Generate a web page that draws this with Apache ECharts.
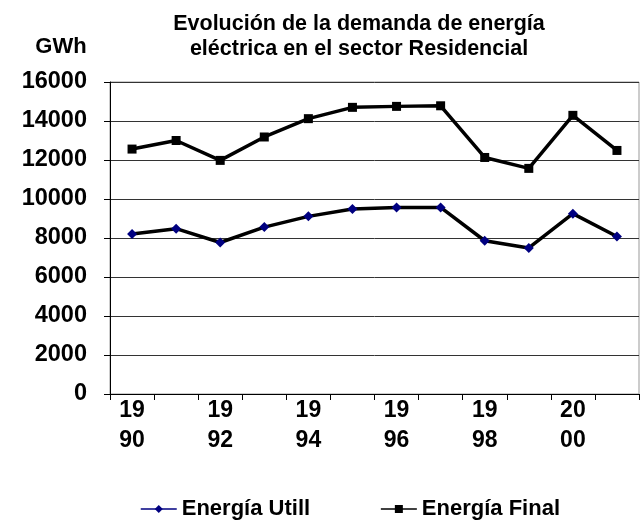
<!DOCTYPE html>
<html><head><meta charset="utf-8">
<script src="https://cdn.jsdelivr.net/npm/echarts@6/dist/echarts.min.js"></script>
<style>html,body{margin:0;padding:0;background:#fff}#c{width:641px;height:525px}</style>
</head><body><div id="c"></div>
<script>
const years = ['1990','1991','1992','1993','1994','1995','1996','1997','1998','1999','2000','2001'];
const yearLabels = ['19\n90','19\n91','19\n92','19\n93','19\n94','19\n95','19\n96','19\n97','19\n98','19\n99','20\n00','20\n01'];
const energiaUtil = [8200, 8480, 7770, 8560, 9110, 9490, 9570, 9570, 7860, 7490, 9250, 8080];
const energiaFinal = [12560, 13000, 11980, 13180, 14120, 14700, 14750, 14780, 12130, 11570, 14290, 12490];
const seriesNames = ['Energía Utill', 'Energía Final'];
const titleText = 'Evolución de la demanda de energía\neléctrica en el sector Residencial';
const unitText = 'GWh';

const FONT = 'Liberation Sans, Arial, sans-serif';
const chart = echarts.init(document.getElementById('c'), null, {renderer: 'canvas'});
chart.setOption({
  animation: false,
  backgroundColor: '#fff',
  graphic: [
    {type: 'text', x: 359, y: 12, style: {text: titleText, font: 'bold 21.5px ' + FONT, fill: '#000', align: 'center', verticalAlign: 'top', lineHeight: 25}},
    {type: 'text', x: 61, y: 47, style: {text: unitText, font: 'bold 22px ' + FONT, fill: '#000', align: 'center', verticalAlign: 'middle'}}
  ],
  grid: {left: 110, right: 2, top: 82, bottom: 131, show: true, borderColor: '#999', borderWidth: 1},
  legend: {
    top: 493, left: 135, itemGap: 70, itemWidth: 36, itemHeight: 10,
    textStyle: {fontFamily: FONT, fontWeight: 'bold', fontSize: 22, color: '#000'},
    data: [
      {name: seriesNames[0], itemStyle: {color: '#000080'}, lineStyle: {color: '#000080', width: 1.5}},
      {name: seriesNames[1], itemStyle: {color: '#000'}, lineStyle: {color: '#000', width: 1.5}}
    ]
  },
  xAxis: {
    type: 'category', data: years, boundaryGap: true,
    axisLine: {lineStyle: {color: '#000', width: 1}},
    axisTick: {show: true, length: 6, interval: 0, lineStyle: {color: '#000'}},
    axisLabel: {interval: 1, formatter: (v, i) => yearLabels[i], fontFamily: FONT, fontWeight: 'bold', fontSize: 23, color: '#000', lineHeight: 30, margin: 2}
  },
  yAxis: {
    type: 'value', min: 0, max: 16000, interval: 2000,
    axisLine: {show: true, lineStyle: {color: '#000', width: 1}},
    axisTick: {show: true, length: 6, lineStyle: {color: '#000'}},
    splitLine: {show: true, lineStyle: {color: '#333', width: 1}},
    axisLabel: {formatter: v => String(v), fontFamily: FONT, fontWeight: 'bold', fontSize: 23.5, color: '#000', margin: 23}
  },
  series: [
    {name: seriesNames[0], type: 'line', data: energiaUtil, symbol: 'diamond', symbolSize: 10,
     lineStyle: {color: '#000', width: 3.5}, itemStyle: {color: '#000080'}, z: 3},
    {name: seriesNames[1], type: 'line', data: energiaFinal, symbol: 'rect', symbolSize: 9,
     lineStyle: {color: '#000', width: 3.5}, itemStyle: {color: '#000'}, z: 3}
  ]
});
</script></body></html>
